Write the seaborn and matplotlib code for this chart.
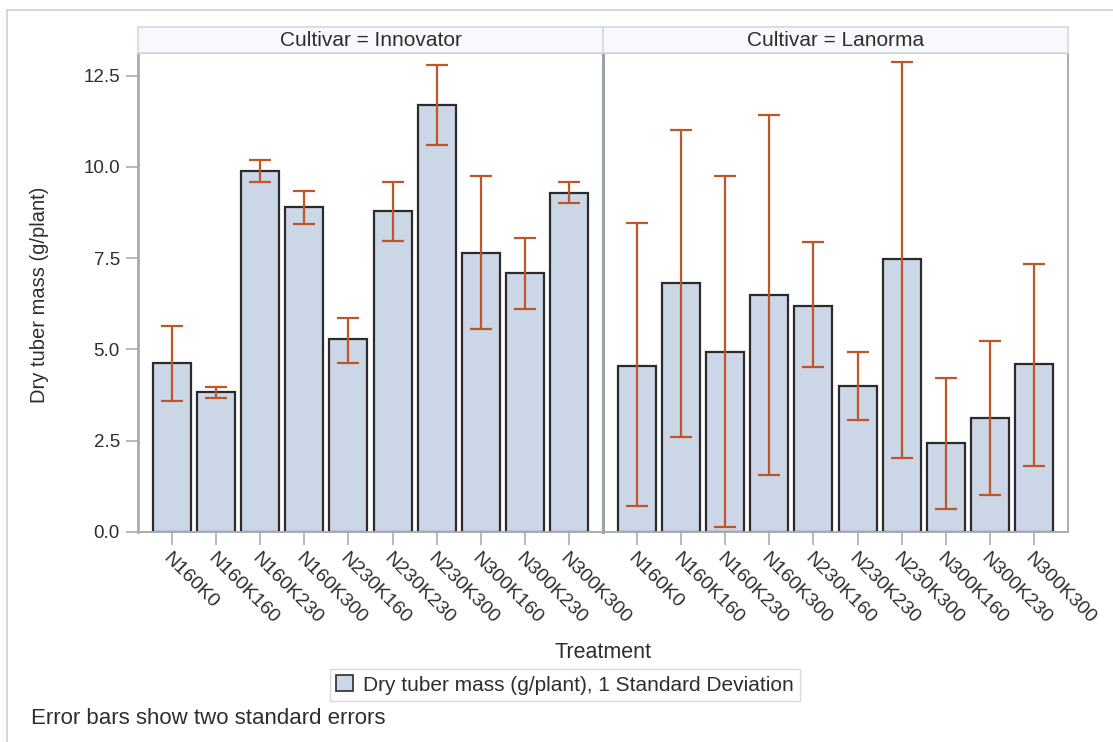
import numpy as np
import pandas as pd
import matplotlib
matplotlib.use("Agg")
import matplotlib.pyplot as plt
import matplotlib.transforms as mtransforms
import seaborn as sns
from matplotlib.patches import Patch
from matplotlib.lines import Line2D

# ---- data ----
treatments = ["N160K0", "N160K160", "N160K230", "N160K300", "N230K160",
              "N230K230", "N230K300", "N300K160", "N300K230", "N300K300"]
cultivars = ["Innovator", "Lanorma"]

innovator_mean = [4.64, 3.84, 9.89, 8.91, 5.28, 8.79, 11.70, 7.64, 7.10, 9.29]
innovator_low = [3.58, 3.66, 9.59, 8.44, 4.64, 7.97, 10.60, 5.57, 6.12, 9.00]
innovator_high = [5.65, 3.96, 10.19, 9.34, 5.87, 9.59, 12.79, 9.75, 8.06, 9.59]

lanorma_mean = [4.55, 6.83, 4.93, 6.49, 6.19, 4.00, 7.47, 2.44, 3.12, 4.60]
lanorma_low = [0.71, 2.61, 0.14, 1.55, 4.52, 3.08, 2.03, 0.63, 1.01, 1.81]
lanorma_high = [8.45, 11.01, 9.74, 11.43, 7.94, 4.93, 12.87, 4.22, 5.23, 7.34]

yticks = [0.0, 2.5, 5.0, 7.5, 10.0, 12.5]

df = pd.DataFrame({
    "Cultivar": np.repeat(cultivars, len(treatments)),
    "Treatment": treatments * 2,
    "mass": innovator_mean + lanorma_mean,
    "low": innovator_low + lanorma_low,
    "high": innovator_high + lanorma_high,
})

sns.set_theme(style="white")
plt.rcParams["font.family"] = ["Liberation Sans", "DejaVu Sans"]

W, H = 1113, 742
fig = plt.figure(figsize=(W / 100, H / 100), dpi=100)

bar_fill = "#CBD6E6"
bar_edge = "#2B2B2B"
err_col = "#C0552A"
frame_col = "#A7ADB2"
text_col = "#2E2E2E"

top_px, bot_px = 53, 532
panels = [(138, 603), (603, 1068)]


def fx(px):
    return px / W


def fy(py):
    return 1 - py / H


shift = mtransforms.ScaledTranslation(-6 / 100, 0, fig.dpi_scale_trans)

for i, (cult, (x0, x1)) in enumerate(zip(cultivars, panels)):
    ax = fig.add_axes([fx(x0), fy(bot_px), fx(x1 - x0), (bot_px - top_px) / H])
    sub = df[df["Cultivar"] == cult]
    sns.barplot(data=sub, x="Treatment", y="mass", order=treatments, ax=ax,
                color=bar_fill, edgecolor=bar_edge, linewidth=1.6,
                width=0.86, errorbar=None, saturation=1)
    pos = np.arange(len(treatments))
    m = sub["mass"].to_numpy()
    lo = m - sub["low"].to_numpy()
    hi = sub["high"].to_numpy() - m
    ax.errorbar(pos, m, yerr=[lo, hi], fmt="none", ecolor=err_col,
                elinewidth=1.6, capsize=8, capthick=1.6, zorder=5)
    ax.set_xlim(-0.77, 9.77)
    ax.set_ylim(0, 13.12)
    ax.set_xlabel("")
    ax.set_ylabel("")
    ax.set_yticks(yticks)
    ax.set_xticks(pos)
    ax.set_xticklabels(treatments, rotation=-45, ha="left", va="top",
                       rotation_mode="anchor", fontsize=14, color=text_col)
    for lab in ax.get_xticklabels():
        lab.set_transform(lab.get_transform() + shift)
    for s in ax.spines.values():
        s.set_color(frame_col)
        s.set_linewidth(1.4)
    ax.tick_params(axis="x", length=9, width=1.2, color=frame_col, pad=4,
                   bottom=True)
    if i == 0:
        ax.set_yticklabels([f"{v:.1f}" for v in yticks], fontsize=13.5,
                           color=text_col)
        ax.tick_params(axis="y", length=9, width=1.2, color=frame_col,
                       left=True, pad=4)
        ax.spines["left"].set_linewidth(2.0)
    else:
        ax.tick_params(axis="y", left=False, labelleft=False)
        ax.spines["left"].set_linewidth(2.2)
        ax.spines["left"].set_color("#9DA3A8")
    ax.set_facecolor("white")

    # header strip
    hax = fig.add_axes([fx(x0), fy(top_px), fx(x1 - x0), (top_px - 27) / H])
    hax.set_facecolor("#F8F9FD")
    hax.set_xticks([])
    hax.set_yticks([])
    for s in hax.spines.values():
        s.set_color("#D4D8DC")
        s.set_linewidth(1.2)
    hax.text(0.5, 0.5, f"Cultivar = {cult}", ha="center", va="center",
             fontsize=15, color=text_col, transform=hax.transAxes)

# axis labels
fig.text(fx(40), fy(295), "Dry tuber mass (g/plant)", rotation=90,
         ha="center", va="center", fontsize=14.5, color=text_col)
fig.text(fx(603), fy(653), "Treatment", ha="center", va="center",
         fontsize=15.5, color=text_col)

# legend
handle = Patch(facecolor=bar_fill, edgecolor=bar_edge, linewidth=1.2)
leg = fig.legend([handle], ["Dry tuber mass (g/plant), 1 Standard Deviation"],
                 loc="center", bbox_to_anchor=(fx(565), fy(685)),
                 fontsize=15, frameon=True, fancybox=False,
                 handlelength=0.8, handleheight=0.8, handletextpad=0.5,
                 borderpad=0.3, borderaxespad=0)
leg.get_frame().set_edgecolor("#CFCFCF")
leg.get_frame().set_linewidth(1.0)
for t in leg.get_texts():
    t.set_color(text_col)

# footnote
fig.text(fx(31), fy(719), "Error bars show two standard errors",
         ha="left", va="center", fontsize=16, color=text_col)

# outer frame lines (top and left)
fig.add_artist(Line2D([fx(7), 1], [fy(10), fy(10)], color="#D0D0D0",
                      linewidth=1.2, transform=fig.transFigure))
fig.add_artist(Line2D([fx(7), fx(7)], [fy(10), 0], color="#D0D0D0",
                      linewidth=1.2, transform=fig.transFigure))

fig.savefig("out.png", dpi=100, facecolor="white")
